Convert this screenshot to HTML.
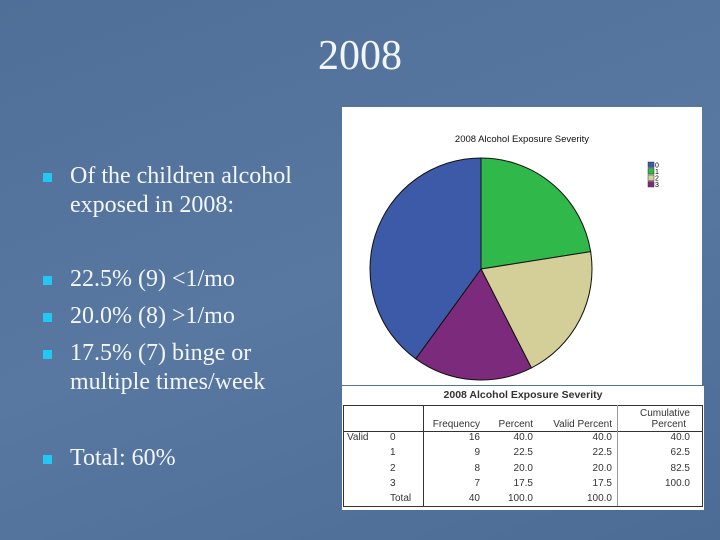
<!DOCTYPE html>
<html><head><meta charset="utf-8"><style>
body{margin:0;width:720px;height:540px;overflow:hidden;background:linear-gradient(160deg,#4f6f98 0%,#5878a2 50%,#4c6c95 100%);font-family:"Liberation Serif",serif;position:relative}
.t{position:absolute;color:#f2f6fa}
.b{position:absolute;left:43px;width:9px;height:9px;background:#22c8f2}
.txt{position:absolute;left:70px;font-size:24px;line-height:29px;color:#f4f7fa}
.cell{position:absolute;font-family:"Liberation Sans",sans-serif;font-size:10px;color:#333}
</style></head><body>
<div class="t" style="left:0;width:720px;text-align:center;top:32px;font-size:42px">2008</div>
<div class="b" style="top:173px"></div>
<div class="txt" style="top:162px">Of the children alcohol<br>exposed in 2008:</div>
<div class="b" style="top:276px"></div>
<div class="b" style="top:313px"></div>
<div class="b" style="top:350px"></div>
<div class="txt" style="top:265px">22.5% (9) &lt;1/mo</div>
<div class="txt" style="top:302px">20.0% (8) &gt;1/mo</div>
<div class="txt" style="top:339px">17.5% (7) binge or<br>multiple times/week</div>
<div class="b" style="top:455px"></div>
<div class="txt" style="top:444px">Total: 60%</div>

<div style="position:absolute;left:342px;top:107px;width:360px;height:278px;background:#fff"></div>
<div style="position:absolute;left:342px;top:386px;width:362px;height:124px;background:#fff"></div>
<svg id="s" width="720" height="540" style="position:absolute;left:0;top:0">
<text x="522" y="142" text-anchor="middle" font-family="Liberation Sans" font-size="9.5" fill="#111">2008 Alcohol Exposure Severity</text>
<g id="pie"></g><g id="leg"></g>
</svg>
<div class="cell" style="left:342px;width:362px;text-align:center;top:389px;font-weight:bold;font-size:10.5px">2008 Alcohol Exposure Severity</div>
<div style="position:absolute;left:343px;top:405px;width:358px;height:100px;border:1px solid #333"></div>
<div style="position:absolute;left:343px;top:431px;width:360px;border-top:1px solid #333"></div>
<div style="position:absolute;left:423px;top:405px;height:101px;border-left:1px solid #333"></div>
<div style="position:absolute;left:617px;top:405px;height:101px;border-left:1px solid #999"></div>
<div id="tbl"></div>
<script>
const categories=["0","1","2","3"];
const frequencies=[16,9,8,7];
const percents=["40.0","22.5","20.0","17.5"];
const cumulative=["40.0","62.5","82.5","100.0"];
const colors=["#3c5aa8","#30b84a","#d4cf98","#7c2a7c"];
const ns="http://www.w3.org/2000/svg";
const cx=481,cy=269,r=111;
const total=frequencies.reduce((a,b)=>a+b,0);
const order=[1,2,3,0];
let a=0;const pie=document.getElementById('pie');
order.forEach(i=>{
 const a2=a+frequencies[i]/total*2*Math.PI;
 const p=document.createElementNS(ns,'path');
 const x1=cx+r*Math.sin(a),y1=cy-r*Math.cos(a),x2=cx+r*Math.sin(a2),y2=cy-r*Math.cos(a2);
 p.setAttribute('d',`M${cx},${cy}L${x1},${y1}A${r},${r} 0 ${a2-a>Math.PI?1:0} 1 ${x2},${y2}Z`);
 p.setAttribute('fill',colors[i]);p.setAttribute('stroke','#111');p.setAttribute('stroke-width','1');
 
 
 pie.appendChild(p);a=a2;});
const leg=document.getElementById('leg');
categories.forEach((c,i)=>{
 const rc=document.createElementNS(ns,'rect');
 rc.setAttribute('x',648);rc.setAttribute('y',162+i*6.5);rc.setAttribute('width',6);rc.setAttribute('height',5.5);
 rc.setAttribute('fill',colors[i]);rc.setAttribute('stroke','#333');rc.setAttribute('stroke-width','0.5');
 
 
 leg.appendChild(rc);
 const t=document.createElementNS(ns,'text');
 t.setAttribute('x',655);t.setAttribute('y',167.5+i*6.5);t.setAttribute('font-size','7');t.setAttribute('font-family','Liberation Sans');t.textContent=c;
 
 
 leg.appendChild(t);});
const tbl=document.getElementById('tbl');
function cell(txt,x,y,align,w,name){const d=document.createElement('div');d.className='cell';d.textContent=txt;
 d.style.top=y+'px';if(align==='r'){d.style.left=(x-w)+'px';d.style.width=w+'px';d.style.textAlign='right';}else d.style.left=x+'px';
 
 
 tbl.appendChild(d);}
cell('Frequency',480,419,'r',60,'header-frequency');
cell('Percent',533,419,'r',50,'header-percent');
cell('Valid Percent',612,419,'r',70,'header-valid-percent');
cell('Cumulative',690,408,'r',70,'header-cumulative');
cell('Percent',686,419,'r',70,'header-cumulative');
cell('Valid',347,432,'l',0,'row-label-valid');
categories.forEach((c,i)=>{const y=432+i*15.3;
 cell(c,390,y,'l',0,'row-category');
 cell(String(frequencies[i]),480,y,'r',40,'freq-value');
 cell(percents[i],533,y,'r',40,'percent-value');
 cell(percents[i],612,y,'r',40,'valid-percent-value');
 cell(cumulative[i],690,y,'r',40,'cumulative-value');});
const yt=432+4*15.3;
cell('Total',390,yt,'l',0,'row-total');
cell(String(total),480,yt,'r',40,'freq-total');
cell('100.0',533,yt,'r',40,'percent-total');
cell('100.0',612,yt,'r',40,'valid-percent-total');
</script>
</body></html>
